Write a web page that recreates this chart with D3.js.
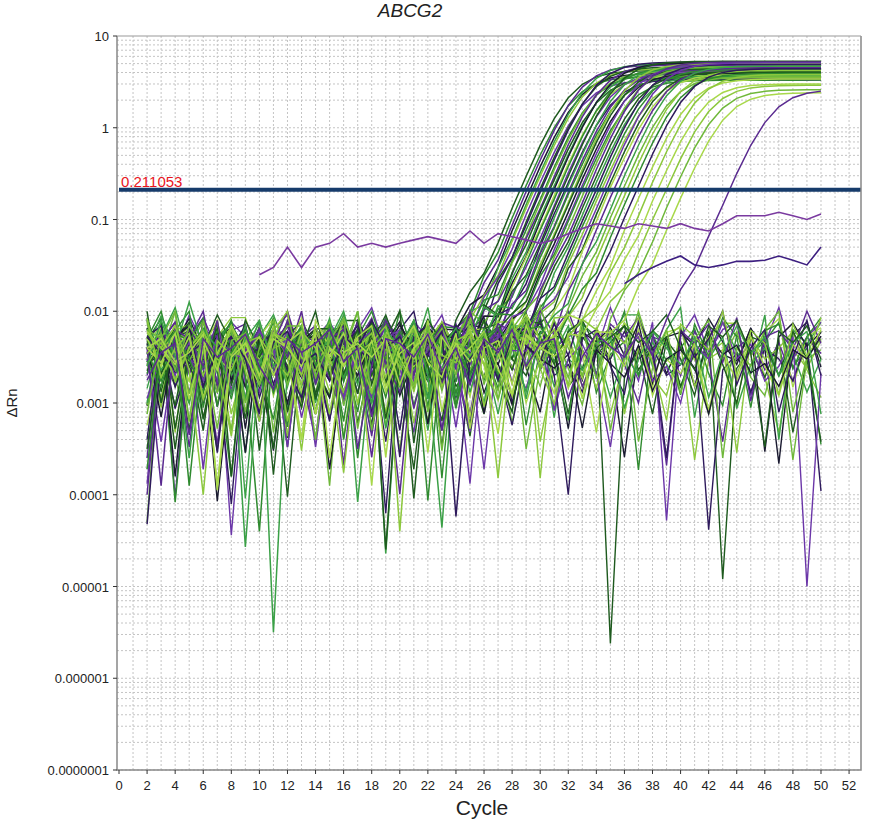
<!DOCTYPE html>
<html><head><meta charset="utf-8">
<script src="https://cdn.jsdelivr.net/npm/d3@7"></script>
<style>body{margin:0;background:#fff}text{font-family:"Liberation Sans",Arial,sans-serif}</style>
</head><body><svg id="c" width="871" height="823"></svg>
<script>
// ---- data ----
const cycles = d3.range(2, 51);
const xTicks = d3.range(0, 53, 2);
const yTickLabels = ["0.0000001","0.000001","0.00001","0.0001","0.001","0.01","0.1","1","10"];
const threshold = 0.211053;
// baseline noise rows (log10 ΔRn), read as typical patterns
const noiseRows = [
[-2.3,-2.0,-3.2,-2.1,-2.6,-2.2,-3.0,-2.4,-2.1,-2.8,-2.3,-3.4,-2.2,-2.5,-2.0,-2.9,-2.4,-2.6,-2.2,-3.1,-2.3,-2.7,-2.1,-2.5,-2.9,-2.2,-2.4,-2.0,-3.3,-2.5,-2.2,-2.7,-2.3,-3.0,-2.4,-2.1,-2.6,-2.8,-2.2,-3.5,-2.4,-2.3,-2.9,-2.1,-2.6,-3.2,-2.3,-2.5,-2.2],
[-2.6,-2.1,-2.4,-4.2,-2.2,-2.0,-2.7,-3.3,-2.3,-2.1,-2.5,-2.2,-3.0,-2.4,-2.1,-2.7,-4.0,-2.3,-2.2,-2.6,-2.9,-2.1,-2.4,-3.6,-2.2,-2.5,-2.3,-2.0,-2.8,-2.4,-2.2,-3.1,-2.5,-2.1,-2.7,-3.4,-2.2,-2.3,-2.9,-2.1,-2.6,-4.1,-2.4,-2.2,-2.8,-2.3,-3.0,-2.2,-2.5],
[-2.1,-2.8,-2.3,-2.0,-3.5,-2.4,-2.2,-2.6,-2.9,-2.1,-3.8,-2.3,-2.5,-2.2,-3.1,-2.4,-2.0,-2.7,-2.3,-2.9,-2.2,-4.6,-2.4,-2.1,-2.6,-3.2,-2.3,-2.5,-2.1,-2.8,-3.7,-2.2,-2.4,-2.6,-2.0,-3.0,-2.3,-2.5,-3.3,-2.2,-2.7,-2.1,-2.4,-3.5,-2.3,-2.2,-2.9,-2.4,-2.1],
[-2.4,-2.2,-2.7,-2.5,-2.1,-5.5,-2.6,-2.3,-3.0,-2.2,-2.4,-2.8,-2.1,-4.8,-2.5,-2.3,-2.6,-2.2,-3.2,-2.4,-2.1,-2.9,-2.3,-2.7,-2.2,-2.5,-3.4,-2.1,-2.4,-2.6,-2.3,-3.9,-2.2,-2.5,-2.8,-2.1,-3.1,-2.4,-2.2,-2.6,-3.6,-2.3,-2.1,-2.7,-2.5,-3.0,-2.2,-2.4,-1.9],
[-2.0,-2.5,-2.2,-2.9,-2.3,-2.1,-3.6,-2.4,-2.6,-2.2,-2.0,-3.1,-2.5,-2.3,-4.3,-2.2,-2.6,-2.4,-2.1,-2.8,-3.3,-2.2,-2.5,-2.3,-2.0,-2.7,-2.4,-3.9,-2.2,-2.3,-2.6,-2.1,-2.9,-2.4,-3.2,-2.2,-2.5,-2.0,-2.8,-2.3,-2.2,-3.5,-2.6,-2.1,-2.4,-2.7,-2.2,-3.3,-2.5],
[-2.5,-2.3,-2.0,-2.6,-3.0,-2.2,-2.4,-2.1,-2.7,-4.4,-2.3,-2.5,-2.2,-2.8,-2.1,-3.4,-2.4,-2.3,-2.6,-2.0,-2.5,-3.0,-2.2,-4.9,-2.4,-2.1,-2.6,-2.3,-2.2,-3.2,-2.5,-2.0,-2.7,-2.4,-2.2,-4.4,-2.3,-2.6,-2.1,-2.5,-3.0,-2.2,-2.4,-2.9,-2.3,-2.1,-2.6,-2.4,-2.2]
];
const noiseDepth = [1.0,0.6,0.7,0.5,0.8,0.6];
const palette = ["#1e5a1e","#8cc83c","#5a2a90","#2f8a2f","#1a1a30","#a8d84a","#6b36a8","#3aa046","#2e1a5c","#6fb83a"];
const ctValues = [28.6,28.9,29.1,29.3,29.5,29.6,29.8,30.0,30.1,30.3,30.4,30.6,30.7,30.9,31.0,31.2,31.3,31.5,31.6,31.8,31.9,32.1,32.2,32.4,32.5,32.7,32.9,33.0,33.2,33.4,33.6,33.8,34.0,34.2,34.4,34.6,34.8,35.0,35.3,35.6,35.9,36.2,36.5,36.9,37.3,37.8,38.4,39.0,39.6,40.3,43.5];
const plateauValues = [4.2,3.6,4.8,3.9,5.0,4.4,3.3,4.6,5.2,3.8,4.1,4.9,3.5,4.3,5.1,3.7,4.5,4.0,5.3,3.4,4.7,4.2,3.6,5.0,4.4,3.9,4.8,3.3,4.6,5.2,4.0,3.7,4.9,4.3,3.5,5.1,4.1,3.8,4.5,4.7,3.6,4.2,3.9,4.4,3.4,3.8,3.0,2.9,2.6,2.4,2.6];
const curveColors = [0,3,2,4,7,1,6,0,8,3,9,2,0,7,4,5,3,6,0,8,7,2,3,1,0,4,6,3,9,2,0,7,8,3,1,6,0,5,2,7,9,1,3,8,5,1,5,1,9,5,2];
const flatPurpleA = [[10,0.025],[11,0.03],[12,0.05],[13,0.03],[14,0.05],[15,0.055],[16,0.07],[17,0.05],[18,0.055],[19,0.05],[20,0.055],[21,0.06],[22,0.065],[23,0.06],[24,0.055],[25,0.075],[26,0.055],[27,0.07],[28,0.065],[29,0.06],[30,0.055],[31,0.06],[32,0.07],[33,0.08],[34,0.09],[35,0.085],[36,0.08],[37,0.09],[38,0.085],[39,0.08],[40,0.09],[41,0.08],[42,0.075],[43,0.09],[44,0.11],[45,0.11],[46,0.11],[47,0.12],[48,0.11],[49,0.1],[50,0.115]];
const flatPurpleB = [[36,0.02],[37,0.025],[38,0.03],[39,0.035],[40,0.04],[41,0.032],[42,0.03],[43,0.032],[44,0.035],[45,0.035],[46,0.036],[47,0.04],[48,0.036],[49,0.032],[50,0.05]];

// ---- chart ----
const svg = d3.select("#c");
const L=117,R=861,T=36,B=770;
const x = d3.scaleLinear().domain([0,52.85]).range([L+2,R]);
const y = d3.scaleLog().domain([1e-7,10]).range([B,T]);
const g = svg.append("g");
const minor=[];
for(let e=-7;e<1;e++) for(let m=1;m<10;m++) minor.push(m*Math.pow(10,e));
g.selectAll(".hg").data(minor).join("line").attr("x1",L).attr("x2",R)
 .attr("y1",d=>y(d)).attr("y2",d=>y(d)).attr("stroke","#c4c4c4").attr("stroke-dasharray","2,2").attr("stroke-width",1);
g.selectAll(".vg").data(d3.range(1,53)).join("line").attr("y1",T).attr("y2",B)
 .attr("x1",d=>x(d)).attr("x2",d=>x(d)).attr("stroke","#c4c4c4").attr("stroke-dasharray","2,2").attr("stroke-width",1);
svg.append("clipPath").attr("id","clip").append("rect").attr("x",L).attr("y",T).attr("width",R-L).attr("height",B-T);
const lines = svg.append("g").attr("clip-path","url(#clip)");
const line = d3.line().x(d=>x(d[0])).y(d=>y(Math.max(d[1],1e-7)));
const k=1.15;
const nval=(r,j,s)=>{const row=noiseRows[r%6];const v=row[(j+s)%row.length];return -2.4+(v+2.4)*noiseDepth[(r+s)%6];};
for(let i=0;i<24;i++){
  const s=(i*7)%49;
  const pts=cycles.map((c,j)=>[c,Math.pow(10,nval(i,j,s)+((i%3)-1)*0.12)]);
  lines.append("path").datum(pts).attr("d",line).attr("fill","none")
   .attr("stroke",palette[(i*3+1)%palette.length]).attr("stroke-width",1.4);
}
ctValues.forEach((ct,i)=>{
  const F=plateauValues[i], mid=ct+k*Math.log(F/threshold-1);
  const s=(i*11)%49;
  const pts=cycles.map((c,j)=>[c, Math.pow(10,nval(i+2,j,s)) + F/(1+Math.exp(-(c-mid)/k))]);
  lines.append("path").datum(pts).attr("d",line).attr("fill","none")
   .attr("stroke",palette[curveColors[i]]).attr("stroke-width",1.5);
});
[flatPurpleA,flatPurpleB].forEach((p,i)=>lines.append("path").datum(p).attr("d",line).attr("fill","none")
  .attr("stroke",i?"#3d1f80":"#7a3aa0").attr("stroke-width",1.6));
svg.append("line").attr("x1",L+2).attr("x2",R).attr("y1",y(threshold)).attr("y2",y(threshold))
 .attr("stroke","#163b6b").attr("stroke-width",4);
svg.append("text").attr("x",121).attr("y",y(threshold)-3).attr("fill","#e8141c").attr("font-size",15).text("0.211053");
svg.append("path").attr("d",`M${L},${T}V${B}H${R}V${T}`).attr("fill","none").attr("stroke","#888").attr("stroke-width",1.5);
svg.append("line").attr("x1",L).attr("x2",R).attr("y1",T).attr("y2",T).attr("stroke","#999");
const yTicks = yTickLabels.map(s=>+s);
svg.selectAll(".yt").data(yTicks).join("line").attr("x1",L-4).attr("x2",L).attr("y1",d=>y(d)).attr("y2",d=>y(d)).attr("stroke","#333");
svg.selectAll(".yl").data(yTickLabels).join("text").attr("x",L-8).attr("y",d=>y(+d)+5)
 .attr("text-anchor","end").attr("font-size",13).attr("fill","#222").text(d=>d);
svg.selectAll(".xt").data(xTicks).join("line").attr("y1",B).attr("y2",B+4).attr("x1",d=>x(d)).attr("x2",d=>x(d)).attr("stroke","#333");
svg.selectAll(".xl").data(xTicks).join("text").attr("x",d=>x(d)).attr("y",B+20)
 .attr("text-anchor","middle").attr("font-size",13).attr("fill","#222").text(d=>d);
svg.append("text").attr("x",482).attr("y",815).attr("text-anchor","middle").attr("font-size",21).attr("fill","#222").text("Cycle");
svg.append("text").attr("transform","translate(17,403) rotate(-90)").attr("text-anchor","middle").attr("font-size",15).attr("fill","#222").text("ΔRn");
svg.append("text").attr("x",410).attr("y",17).attr("text-anchor","middle").attr("font-size",19).attr("font-style","italic").attr("fill","#222").text("ABCG2");
</script></body></html>
